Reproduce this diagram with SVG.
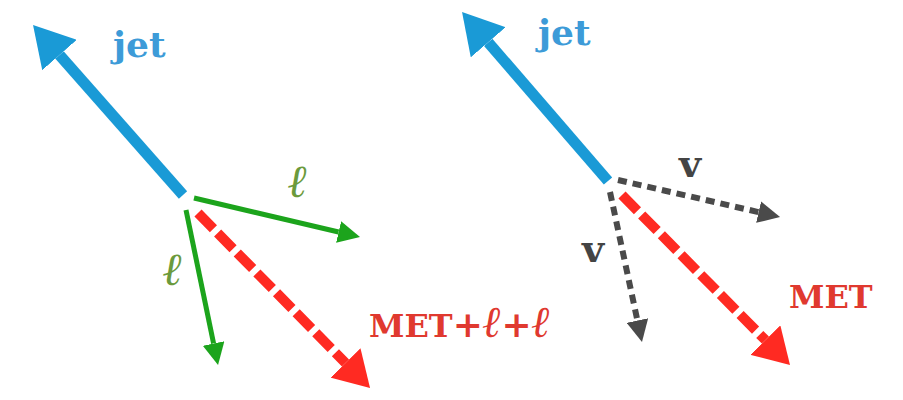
<svg xmlns="http://www.w3.org/2000/svg" width="903" height="400" viewBox="0 0 903 400">
<style>
.lbl{font-family:"DejaVu Serif","Liberation Serif",serif;font-weight:bold}
.ell{font-family:"DejaVu Serif","Liberation Serif",serif;font-style:italic;font-weight:bold}
.jet{stroke:#1a9ad6;stroke-width:11;fill:none}
.lep{stroke:#1ca41c;stroke-width:5;fill:none}
.met{stroke:#ff2a22;stroke-width:10;fill:none;stroke-dasharray:22 6}
.nu{stroke:#4a4a4a;stroke-width:6;fill:none;stroke-dasharray:9 6}
</style>
<defs>
<marker id="hJet" markerUnits="userSpaceOnUse" viewBox="0 0 40 46" markerWidth="40" markerHeight="46" refX="0" refY="23" orient="auto"><path d="M0,0 L40,23 L0,46 Z" fill="#1a9ad6"/></marker>
<marker id="hLep" markerUnits="userSpaceOnUse" viewBox="0 0 22 22" markerWidth="22" markerHeight="22" refX="0" refY="11" orient="auto"><path d="M0,0 L22,11 L0,22 Z" fill="#1ca41c"/></marker>
<marker id="hMet" markerUnits="userSpaceOnUse" viewBox="0 0 35 42" markerWidth="35" markerHeight="42" refX="0" refY="21" orient="auto"><path d="M0,0 L35,21 L0,42 Z" fill="#ff2a22"/></marker>
<marker id="hNu" markerUnits="userSpaceOnUse" viewBox="0 0 22 22" markerWidth="22" markerHeight="22" refX="0" refY="11" orient="auto"><path d="M0,0 L22,11 L0,22 Z" fill="#4a4a4a"/></marker>
</defs>
<g id="connectors">
<line class="jet" x1="183" y1="195" x2="59.5" y2="55" marker-end="url(#hJet)"/>
<line class="lep" x1="194" y1="198" x2="338.6" y2="232" marker-end="url(#hLep)"/>
<line class="lep" x1="186" y1="210" x2="213.6" y2="343.5" marker-end="url(#hLep)"/>
<line class="met" x1="198" y1="213" x2="345.5" y2="363" marker-end="url(#hMet)"/>
<line class="jet" x1="608" y1="181" x2="488.2" y2="42.3" marker-end="url(#hJet)"/>
<line class="nu" x1="618" y1="180" x2="758.6" y2="212.1" marker-end="url(#hNu)"/>
<line class="nu" x1="610" y1="192" x2="637.4" y2="320.5" marker-end="url(#hNu)"/>
<line class="met" x1="622" y1="195" x2="765.4" y2="340.1" marker-end="url(#hMet)"/>
</g>
<g id="jet-left"><text class="lbl" x="113" y="57" font-size="36" fill="#3d9bd8">jet</text></g>
<g id="lep1-left"><text class="ell" x="288" y="197" font-size="46" fill="#6b9a3c">ℓ</text></g>
<g id="lep2-left"><text class="ell" x="163" y="285" font-size="46" fill="#6b9a3c">ℓ</text></g>
<g id="met-left"><text x="369" y="337" font-size="32" fill="#e0392f"><tspan class="lbl">MET</tspan><tspan class="lbl" font-size="36">+</tspan><tspan class="ell" font-size="44">ℓ</tspan><tspan class="lbl" font-size="36">+</tspan><tspan class="ell" font-size="44">ℓ</tspan></text></g>
<g id="jet-right"><text class="lbl" x="538" y="45" font-size="36" fill="#3d9bd8">jet</text></g>
<g id="nu1-right"><text class="lbl" x="679" y="177" font-size="38" fill="#444">v</text></g>
<g id="nu2-right"><text class="lbl" x="582" y="262" font-size="38" fill="#444">v</text></g>
<g id="met-right"><text class="lbl" x="789" y="308" font-size="32" fill="#e0392f">MET</text></g>
</svg>
